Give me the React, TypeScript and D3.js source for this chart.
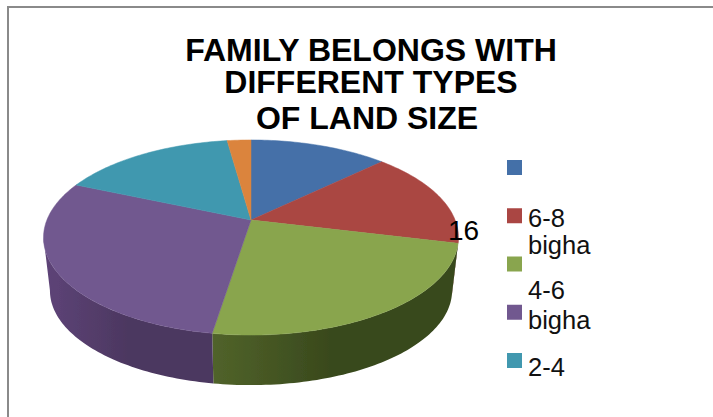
import React from "react";
import * as d3 from "d3";

// Land-size shares, clockwise from twelve o'clock
const categories = ["", "6-8 bigha", "", "4-6 bigha", "2-4", ""];
const shares = [12.8, 16, 23.7, 29, 16.3, 2.2];
const topColors = ["#4470a8", "#aa4643", "#89a54e", "#71588f", "#4198af", "#db843d"];
const wallLight = ["#35547e", "#7f3432", "#51632a", "#5e4478", "#2f7283", "#a4622c"];
const wallDark = ["#2b4567", "#682a29", "#38481c", "#4c3760", "#265e6b", "#865024"];
const titleLines = ["FAMILY BELONGS WITH", "DIFFERENT TYPES", "OF LAND SIZE"];
const titleBaselines = [61, 93, 129];
const titleCentres = [371, 371, 367];
const legendCount = 5;
// Baseline offsets of each legend text line, relative to its swatch centre
const legendTextOffsets = [[], [11, 38], [], [-13, 17], [15]];

const W = 713;
const H = 417;
const font = "'Liberation Sans', Arial, sans-serif";

// Perspective disc: a point at pie angle t (clockwise from top) on the top or bottom plane
const K = 0.1795;
const topPlane = { cx: 251, cy: 220, rx: 204.1, ry: 94.4 };
const bottomPlane = { cx: 251, cy: 273.6, rx: 197.8, ry: 91.5 };
type Plane = typeof topPlane;

const project = (p: Plane, t: number): [number, number] => {
  const u = Math.sin(t);
  const v = -Math.cos(t);
  const w = 1 - K * v;
  return [p.cx + (p.rx * u) / w, p.cy + (p.ry * v) / w];
};

const rim = (p: Plane, a: number, b: number): [number, number][] => {
  const n = Math.max(2, Math.ceil(Math.abs(b - a) / 0.02));
  return d3.range(n + 1).map((i) => project(p, a + ((b - a) * i) / n));
};

const line = d3.line<[number, number]>();
const pie = d3.pie<number>().sort(null).value((d) => d);
const slices = pie(shares);

// The wall is visible between the two silhouette tangents of the disc
const wallStart = Math.PI / 2 + Math.asin(K);
const wallEnd = (3 * Math.PI) / 2 - Math.asin(K);

const legendY = d3.scalePoint<number>().domain(d3.range(legendCount)).range([167.5, 360.5]);

export default function App() {
  return (
    <svg
      width={W}
      height={H}
      viewBox={`0 0 ${W} ${H}`}
      style={{ position: "absolute", left: 0, top: 0, background: "#fff" }}
    >
      <defs>
        <filter id="soft" x="-5%" y="-5%" width="110%" height="110%">
          <feGaussianBlur stdDeviation="0.6" />
        </filter>
        {slices.map((s, i) => (
          <linearGradient key={i} id={`wall${i}`} x1="0" x2="1" y1="0" y2="0">
            <stop offset="0" stopColor={wallLight[i]} />
            <stop offset="0.5" stopColor={wallDark[i]} />
            <stop offset="1" stopColor={wallDark[i]} />
          </linearGradient>
        ))}
      </defs>

      <path d="M8 417V7H713" fill="none" stroke="#8a8a8a" strokeWidth={2} />

      {titleLines.map((t, i) => (
        <text
          key={t}
          x={titleCentres[i]}
          y={titleBaselines[i]}
          textAnchor="middle"
          fontFamily={font}
          fontWeight="bold"
          fontSize={32}
          fill="#000"
        >
          {t}
        </text>
      ))}

      <g filter="url(#soft)">
        {slices.map((s, i) => {
          const a = Math.max(s.startAngle, wallStart);
          const b = Math.min(s.endAngle, wallEnd);
          if (b <= a) return null;
          const pts = [...rim(topPlane, a, b), ...rim(bottomPlane, b, a)];
          return <path key={i} d={line(pts) + "Z"} fill={`url(#wall${i})`} />;
        })}
        {slices.map((s, i) => {
          const pts: [number, number][] = [
            [topPlane.cx, topPlane.cy],
            ...rim(topPlane, s.startAngle, s.endAngle),
          ];
          return <path key={i} d={line(pts) + "Z"} fill={topColors[i]} stroke={topColors[i]} strokeWidth={0.5} />;
        })}
      </g>

      <text x={448} y={240} fontFamily={font} fontSize={28} fill="#000">
        {shares[1]}
      </text>

      {d3.range(legendCount).map((i) => (
        <g key={i}>
          <rect x={507} y={legendY(i)! - 7.5} width={15} height={15} fill={topColors[i]} />
          {categories[i]
            .split(/ /)
            .filter(Boolean)
            .map((part, j) => (
              <text
                key={j}
                x={528}
                y={legendY(i)! + legendTextOffsets[i][j]}
                fontFamily={font}
                fontSize={25.5}
                fill="#111"
              >
                {part}
              </text>
            ))}
        </g>
      ))}
    </svg>
  );
}
